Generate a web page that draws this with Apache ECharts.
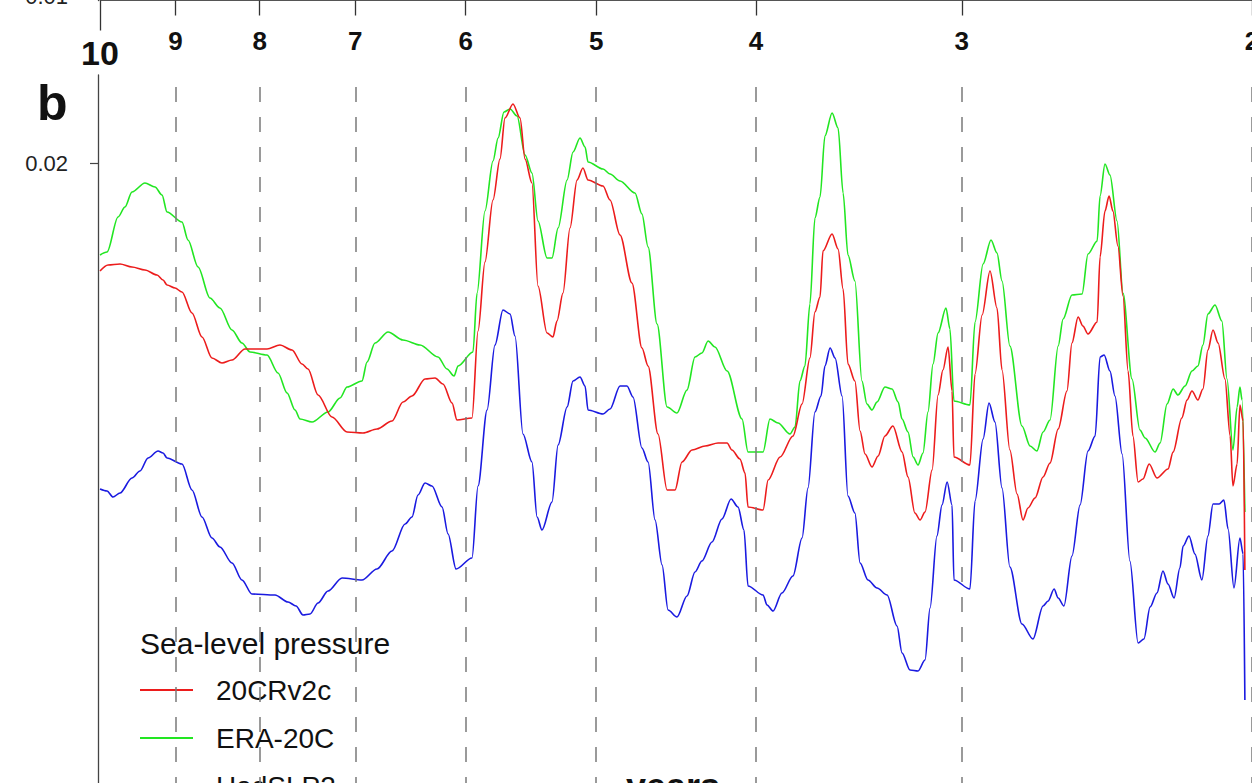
<!DOCTYPE html>
<html>
<head>
<meta charset="utf-8">
<script src="https://cdn.jsdelivr.net/npm/echarts@6/dist/echarts.min.js"></script>
<style>
  html, body { margin: 0; padding: 0; background: #ffffff; }
  #chart { width: 1252px; height: 783px; }
</style>
</head>
<body>
<div id="chart"></div>
<script>
// Spectral power of sea-level pressure indices against period (years), three reanalyses.

// Period ticks on the top axis (years)
const periodTicks = [9, 8, 7, 6, 5, 4, 3, 2];
const periodEdgeTicks = [10];
// Value ticks
const upperPanelTicks = [0.01];
const powerTicks = [0.02];

const legendTitle = 'Sea-level pressure';
const panelLetter = 'b';
const xAxisTitle = 'years';
const seriesNames = ['20CRv2c', 'ERA-20C', 'HadSLP2'];

// 20CRv2c
const period20CR = [10.000, 9.888, 9.724, 9.563, 9.391, 9.234, 9.157, 9.106, 9.005, 8.918,
  8.794, 8.672, 8.552, 8.433, 8.316, 8.166, 7.919, 7.777, 7.647, 7.541,
  7.478, 7.374, 7.232, 7.081, 6.925, 6.791, 6.650, 6.549, 6.467, 6.350,
  6.262, 6.193, 6.115, 6.073, 5.947, 5.897, 5.840, 5.775, 5.719, 5.679,
  5.616, 5.561, 5.522, 5.469, 5.423, 5.355, 5.311, 5.281, 5.237, 5.186,
  5.135, 5.093, 5.057, 4.952, 4.904, 4.836, 4.756, 4.690, 4.650, 4.586,
  4.528, 4.478, 4.435, 4.373, 4.294, 4.217, 4.164, 4.136, 4.090, 4.061,
  4.044, 3.960, 3.932, 3.867, 3.798, 3.750, 3.709, 3.683, 3.657, 3.642,
  3.596, 3.566, 3.541, 3.517, 3.483, 3.458, 3.434, 3.401, 3.372, 3.340,
  3.303, 3.261, 3.234, 3.203, 3.180, 3.158, 3.127, 3.101, 3.080, 3.058,
  3.041, 3.033, 2.966, 2.945, 2.916, 2.884, 2.856, 2.836, 2.805, 2.777,
  2.754, 2.735, 2.708, 2.678, 2.652, 2.622, 2.590, 2.572, 2.550, 2.533,
  2.515, 2.483, 2.473, 2.456, 2.442, 2.429, 2.412, 2.395, 2.378, 2.362,
  2.345, 2.329, 2.309, 2.284, 2.249, 2.233, 2.206, 2.190, 2.175, 2.157,
  2.142, 2.127, 2.112, 2.097, 2.077, 2.062, 2.054, 2.042, 2.034, 2.025,
  2.020];
const power20CR = [0.01892, 0.01898, 0.01899, 0.01896, 0.01893, 0.01888, 0.01883, 0.01878, 0.01875, 0.01871,
  0.01850, 0.01826, 0.01805, 0.01800, 0.01803, 0.01814, 0.01814, 0.01818, 0.01813, 0.01799,
  0.01794, 0.01768, 0.01746, 0.01731, 0.01730, 0.01734, 0.01742, 0.01761, 0.01767, 0.01784,
  0.01785, 0.01779, 0.01760, 0.01743, 0.01745, 0.01832, 0.01901, 0.01963, 0.02004, 0.02045,
  0.02059, 0.02045, 0.02004, 0.01980, 0.01877, 0.01830, 0.01826, 0.01842, 0.01870, 0.01935,
  0.01983, 0.01995, 0.01983, 0.01977, 0.01963, 0.01928, 0.01880, 0.01815, 0.01797, 0.01729,
  0.01673, 0.01673, 0.01701, 0.01713, 0.01717, 0.01720, 0.01720, 0.01713, 0.01704, 0.01690,
  0.01656, 0.01653, 0.01683, 0.01706, 0.01727, 0.01759, 0.01805, 0.01851, 0.01866, 0.01912,
  0.01929, 0.01914, 0.01874, 0.01799, 0.01782, 0.01732, 0.01709, 0.01696, 0.01707, 0.01727,
  0.01737, 0.01711, 0.01686, 0.01650, 0.01643, 0.01651, 0.01693, 0.01768, 0.01793, 0.01816,
  0.01772, 0.01706, 0.01698, 0.01789, 0.01848, 0.01892, 0.01855, 0.01793, 0.01713, 0.01669,
  0.01643, 0.01655, 0.01665, 0.01686, 0.01700, 0.01734, 0.01772, 0.01820, 0.01846, 0.01837,
  0.01829, 0.01841, 0.01906, 0.01952, 0.01967, 0.01952, 0.01917, 0.01867, 0.01792, 0.01727,
  0.01681, 0.01684, 0.01699, 0.01685, 0.01694, 0.01711, 0.01745, 0.01763, 0.01772, 0.01763,
  0.01774, 0.01813, 0.01833, 0.01820, 0.01784, 0.01727, 0.01677, 0.01699, 0.01758, 0.01742,
  0.01593];

// ERA-20C
const periodERA = [10.000, 9.902, 9.751, 9.657, 9.563, 9.391, 9.260, 9.170, 9.106, 8.918,
  8.843, 8.720, 8.576, 8.457, 8.316, 8.201, 8.109, 7.919, 7.798, 7.700,
  7.615, 7.562, 7.436, 7.272, 7.151, 7.081, 6.935, 6.886, 6.810, 6.687,
  6.549, 6.395, 6.236, 6.158, 6.098, 6.064, 5.939, 5.905, 5.840, 5.775,
  5.734, 5.687, 5.639, 5.584, 5.522, 5.469, 5.423, 5.355, 5.318, 5.273,
  5.207, 5.164, 5.114, 5.078, 5.057, 4.952, 4.904, 4.836, 4.736, 4.690,
  4.650, 4.592, 4.528, 4.466, 4.404, 4.355, 4.313, 4.276, 4.235, 4.164,
  4.078, 4.044, 3.960, 3.922, 3.878, 3.814, 3.787, 3.761, 3.735, 3.709,
  3.683, 3.657, 3.632, 3.596, 3.566, 3.541, 3.517, 3.483, 3.449, 3.425,
  3.401, 3.377, 3.340, 3.307, 3.279, 3.261, 3.234, 3.211, 3.189, 3.167,
  3.145, 3.123, 3.101, 3.067, 3.050, 3.033, 2.966, 2.945, 2.912, 2.880,
  2.856, 2.836, 2.805, 2.758, 2.727, 2.701, 2.678, 2.652, 2.622, 2.604,
  2.572, 2.536, 2.515, 2.483, 2.473, 2.456, 2.439, 2.415, 2.395, 2.365,
  2.339, 2.322, 2.290, 2.274, 2.252, 2.233, 2.218, 2.196, 2.175, 2.157,
  2.142, 2.127, 2.106, 2.086, 2.071, 2.054, 2.042, 2.034, 2.028, 2.020];
const powerERA = [0.01908, 0.01911, 0.01946, 0.01956, 0.01971, 0.01980, 0.01976, 0.01968, 0.01951, 0.01941,
  0.01923, 0.01896, 0.01865, 0.01855, 0.01833, 0.01820, 0.01811, 0.01808, 0.01790, 0.01770,
  0.01753, 0.01744, 0.01741, 0.01751, 0.01765, 0.01776, 0.01782, 0.01801, 0.01820, 0.01831,
  0.01823, 0.01818, 0.01806, 0.01794, 0.01787, 0.01797, 0.01811, 0.01870, 0.01952, 0.02002,
  0.02025, 0.02051, 0.02054, 0.02047, 0.02008, 0.01990, 0.01942, 0.01905, 0.01905, 0.01935,
  0.01983, 0.02011, 0.02025, 0.02016, 0.02001, 0.01994, 0.01989, 0.01982, 0.01970, 0.01949,
  0.01916, 0.01839, 0.01756, 0.01750, 0.01773, 0.01806, 0.01810, 0.01822, 0.01816, 0.01792,
  0.01744, 0.01711, 0.01711, 0.01744, 0.01740, 0.01729, 0.01736, 0.01782, 0.01797, 0.01859,
  0.01945, 0.01966, 0.02027, 0.02050, 0.02035, 0.01970, 0.01908, 0.01882, 0.01782, 0.01759,
  0.01753, 0.01761, 0.01776, 0.01774, 0.01761, 0.01744, 0.01731, 0.01706, 0.01698, 0.01710,
  0.01751, 0.01799, 0.01830, 0.01855, 0.01834, 0.01762, 0.01758, 0.01841, 0.01899, 0.01923,
  0.01910, 0.01882, 0.01817, 0.01737, 0.01717, 0.01712, 0.01731, 0.01743, 0.01817, 0.01844,
  0.01868, 0.01869, 0.01909, 0.01922, 0.01967, 0.01999, 0.01988, 0.01942, 0.01870, 0.01784,
  0.01733, 0.01725, 0.01711, 0.01720, 0.01759, 0.01774, 0.01768, 0.01777, 0.01792, 0.01797,
  0.01818, 0.01849, 0.01858, 0.01842, 0.01784, 0.01713, 0.01756, 0.01776, 0.01763, 0.01651];

// HadSLP2
const periodHad = [10.000, 9.902, 9.820, 9.724, 9.563, 9.457, 9.351, 9.221, 9.157, 9.106,
  8.918, 8.794, 8.672, 8.552, 8.457, 8.316, 8.201, 8.087, 7.831, 7.690,
  7.604, 7.531, 7.457, 7.374, 7.272, 7.131, 6.935, 6.791, 6.650, 6.530,
  6.467, 6.413, 6.350, 6.289, 6.201, 6.149, 6.081, 5.947, 5.897, 5.823,
  5.759, 5.695, 5.639, 5.600, 5.538, 5.469, 5.430, 5.393, 5.318, 5.273,
  5.207, 5.164, 5.114, 5.078, 5.057, 4.952, 4.904, 4.836, 4.789, 4.749,
  4.690, 4.650, 4.605, 4.560, 4.522, 4.466, 4.404, 4.355, 4.313, 4.253,
  4.194, 4.141, 4.101, 4.067, 4.044, 3.960, 3.938, 3.905, 3.857, 3.798,
  3.750, 3.719, 3.683, 3.652, 3.632, 3.606, 3.581, 3.546, 3.517, 3.483,
  3.458, 3.420, 3.377, 3.330, 3.284, 3.261, 3.225, 3.189, 3.158, 3.136,
  3.106, 3.084, 3.062, 3.041, 3.033, 2.966, 2.945, 2.912, 2.888, 2.864,
  2.836, 2.805, 2.758, 2.716, 2.678, 2.659, 2.637, 2.622, 2.601, 2.572,
  2.543, 2.515, 2.490, 2.473, 2.459, 2.439, 2.422, 2.398, 2.372, 2.345,
  2.326, 2.306, 2.284, 2.265, 2.249, 2.230, 2.212, 2.202, 2.184, 2.166,
  2.145, 2.127, 2.112, 2.094, 2.080, 2.068, 2.051, 2.034, 2.025, 2.020];
const powerHad = [0.01674, 0.01672, 0.01666, 0.01670, 0.01685, 0.01692, 0.01705, 0.01712, 0.01710, 0.01705,
  0.01699, 0.01673, 0.01646, 0.01625, 0.01616, 0.01600, 0.01583, 0.01569, 0.01568, 0.01561,
  0.01557, 0.01548, 0.01549, 0.01560, 0.01572, 0.01585, 0.01583, 0.01594, 0.01612, 0.01639,
  0.01646, 0.01668, 0.01680, 0.01677, 0.01656, 0.01629, 0.01594, 0.01605, 0.01677, 0.01753,
  0.01818, 0.01853, 0.01849, 0.01827, 0.01729, 0.01701, 0.01646, 0.01633, 0.01661, 0.01718,
  0.01756, 0.01782, 0.01786, 0.01777, 0.01753, 0.01749, 0.01754, 0.01777, 0.01777, 0.01766,
  0.01715, 0.01701, 0.01643, 0.01598, 0.01553, 0.01546, 0.01567, 0.01591, 0.01602, 0.01621,
  0.01644, 0.01664, 0.01656, 0.01633, 0.01577, 0.01568, 0.01558, 0.01552, 0.01570, 0.01587,
  0.01625, 0.01675, 0.01751, 0.01767, 0.01797, 0.01815, 0.01805, 0.01767, 0.01667, 0.01650,
  0.01600, 0.01583, 0.01575, 0.01568, 0.01537, 0.01510, 0.01493, 0.01492, 0.01503, 0.01555,
  0.01627, 0.01658, 0.01681, 0.01658, 0.01583, 0.01574, 0.01662, 0.01724, 0.01760, 0.01741,
  0.01675, 0.01596, 0.01539, 0.01524, 0.01557, 0.01562, 0.01574, 0.01565, 0.01557, 0.01607,
  0.01658, 0.01712, 0.01727, 0.01806, 0.01808, 0.01792, 0.01767, 0.01709, 0.01602, 0.01520,
  0.01524, 0.01556, 0.01570, 0.01592, 0.01579, 0.01565, 0.01595, 0.01617, 0.01627, 0.01609,
  0.01583, 0.01627, 0.01659, 0.01659, 0.01663, 0.01634, 0.01575, 0.01625, 0.01609, 0.01463];

const FONT = '"Liberation Sans", Arial, Helvetica, sans-serif';
const TEXT = '#111111';

const pairs = (xs, ys) => xs.map((x, i) => [x, ys[i]]);

// Period axis: logarithmic, long periods on the left
const periodScale = { type: 'log', logBase: 10, min: 2, max: 10, inverse: true };
const roundLabel = v => String(Math.round(v));

const legendBase = {
  orient: 'vertical', left: 140, padding: 0,
  itemWidth: 53, itemHeight: 2, itemGap: 18, icon: 'rect', selectedMode: false,
  textStyle: { fontSize: 28, color: TEXT, fontFamily: FONT, lineHeight: 30, padding: [0, 0, 0, 18] }
};

// shared look of the spectrum curves
const curve = (name, color, xs, ys) => ({
  name, type: 'line', xAxisIndex: 2, yAxisIndex: 1,
  data: pairs(xs, ys),
  symbol: 'none', showSymbol: false,
  smooth: 0.3, smoothMonotone: 'x',
  lineStyle: { color, width: 1.6 }, itemStyle: { color }
});

const chart = echarts.init(document.getElementById('chart'), null, { renderer: 'svg' });

const hadSeries = curve(seriesNames[2], '#1a1ae0', periodHad, powerHad);
hadSeries.markLine = {
  silent: true, symbol: ['none', 'none'], label: { show: false },
  lineStyle: { type: [15, 15], color: '#7a7a7a', width: 1.5 },
  data: periodTicks.map(p => [{ coord: [p, 0.02076] }, { coord: [p, 0.013] }])
};

chart.setOption({
  animation: false,
  backgroundColor: '#ffffff',
  grid: [
    { left: 100, right: 0, top: -200, height: 200.5, outerBoundsMode: 'none', containLabel: false },
    { left: 100, right: 0, top: 75, height: 1088, outerBoundsMode: 'none', containLabel: false }
  ],
  xAxis: [
    Object.assign({}, periodScale, {
      gridIndex: 0, position: 'bottom',
      axisLine: { show: true, lineStyle: { color: '#555555', width: 1 } },
      axisTick: { show: true, customValues: periodTicks, length: 15, lineStyle: { color: '#333333', width: 1.3 } },
      axisLabel: { show: true, customValues: periodTicks, margin: 27, fontSize: 26, fontWeight: 'bold',
        color: TEXT, fontFamily: FONT, formatter: roundLabel },
      splitLine: { show: false }, minorTick: { show: false }, minorSplitLine: { show: false }
    }),
    Object.assign({}, periodScale, {
      gridIndex: 0, position: 'bottom',
      axisLine: { show: false },
      axisTick: { show: true, customValues: periodEdgeTicks, length: 30, lineStyle: { color: '#333333', width: 1.3 } },
      axisLabel: { show: true, customValues: periodEdgeTicks, margin: 35, fontSize: 34, fontWeight: 'bold',
        color: TEXT, fontFamily: FONT, formatter: roundLabel },
      splitLine: { show: false }
    }),
    Object.assign({}, periodScale, {
      gridIndex: 1, show: false, splitLine: { show: false }
    })
  ],
  yAxis: [
    {
      gridIndex: 0, type: 'value', min: 0.0098, max: 0.02, offset: 2,
      axisLine: { show: true, lineStyle: { color: '#444444', width: 1.3 } },
      axisTick: { show: true, customValues: upperPanelTicks, length: 8, lineStyle: { color: '#444444' } },
      axisLabel: { show: true, customValues: upperPanelTicks, margin: 30, fontSize: 22, color: '#222222', fontFamily: FONT },
      splitLine: { show: false }
    },
    {
      gridIndex: 1, type: 'value', min: 0.01, max: 0.02088, offset: 2,
      axisLine: { show: true, lineStyle: { color: '#444444', width: 1.3 } },
      axisTick: { show: true, customValues: powerTicks, length: 8, lineStyle: { color: '#444444', width: 1.2 } },
      axisLabel: { show: true, customValues: powerTicks, margin: 30, fontSize: 22, color: '#222222', fontFamily: FONT },
      splitLine: { show: false }
    }
  ],
  // one column of legend entries running off the lower edge
  legend: [
    Object.assign({}, legendBase, { data: seriesNames.slice(0, 2), top: 675 }),
    Object.assign({}, legendBase, { data: seriesNames.slice(2), top: 771 })
  ],
  graphic: [
    { type: 'text', x: 140, y: 643, silent: true,
      style: { text: legendTitle, font: '30px ' + FONT, fill: TEXT,
        align: 'left', verticalAlign: 'middle', textAlign: 'left', textVerticalAlign: 'middle' } },
    { type: 'text', x: 37, y: 103, silent: true,
      style: { text: panelLetter, font: 'bold 50px ' + FONT, fill: TEXT,
        align: 'left', verticalAlign: 'middle', textAlign: 'left', textVerticalAlign: 'middle' } },
    { type: 'text', x: 673, y: 786, silent: true,
      style: { text: xAxisTitle, font: 'bold 36px ' + FONT, fill: TEXT,
        align: 'center', verticalAlign: 'middle', textAlign: 'center', textVerticalAlign: 'middle' } }
  ],
  series: [
    hadSeries,
    curve(seriesNames[1], '#22e622', periodERA, powerERA),
    curve(seriesNames[0], '#ec1c1c', period20CR, power20CR)
  ]
});
</script>
</body>
</html>
